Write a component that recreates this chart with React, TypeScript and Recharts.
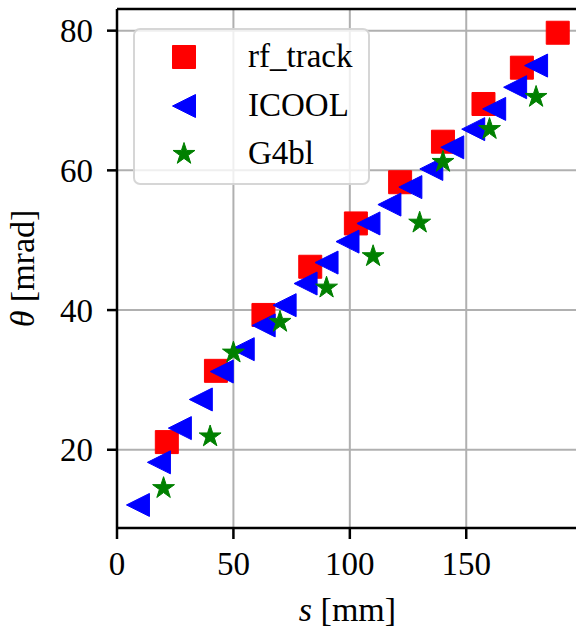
import React from 'react';
import {
  ScatterChart,
  Scatter,
  XAxis,
  YAxis,
  CartesianGrid,
  Legend,
  ReferenceLine,
  Label,
} from 'recharts';

// s [mm] and theta [mrad] for each code
const rfTrackS = [21.4, 42.5, 62.9, 83.0, 102.6, 121.6, 140.0, 157.4, 173.9, 189.3];
const rfTrackTheta = [21.1, 31.3, 39.3, 46.2, 52.4, 58.3, 64.1, 69.5, 74.7, 79.7];

const icoolS = [9, 18, 27, 36, 45, 54, 63, 72, 81, 90, 99, 108, 117, 126, 135, 144, 153, 162, 171, 180];
const icoolTheta = [
  12.1, 18.2, 23.1, 27.2, 31.2, 34.4, 37.8, 40.7, 43.8, 46.8, 49.8, 52.4, 55.1, 57.6, 60.2, 63.3,
  65.9, 68.8, 71.9, 75.0,
];

const g4blS = [20, 40, 50, 70, 90, 110, 130, 140, 160, 180];
const g4blTheta = [14.5, 21.9, 33.9, 38.3, 43.2, 47.7, 52.5, 61.2, 65.9, 70.5];

const seriesNames = ['rf_track', 'ICOOL', 'G4bl'];

const xTicks = [0, 50, 100, 150];
const yTicks = [20, 40, 60, 80];

const X_DOMAIN: [number, number] = [0, 198];
const Y_DOMAIN: [number, number] = [8.8, 83.1];

const FONT = 'Liberation Serif, Times New Roman, Times, serif';
const RED = '#ff0000';
const BLUE = '#0000ff';
const GREEN = '#008000';
const R = 11.5;

const toPoints = (s: number[], theta: number[]) => s.map((v, i) => ({ s: v, theta: theta[i] }));

const rfTrack = toPoints(rfTrackS, rfTrackTheta);
const icool = toPoints(icoolS, icoolTheta);
const g4bl = toPoints(g4blS, g4blTheta);

const squarePath = (cx: number, cy: number) =>
  `M${cx - R},${cy - R}L${cx + R},${cy - R}L${cx + R},${cy + R}L${cx - R},${cy + R}Z`;

const trianglePath = (cx: number, cy: number) =>
  `M${cx - R},${cy}L${cx + R},${cy - R}L${cx + R},${cy + R}Z`;

const starPath = (cx: number, cy: number) => {
  const pts: string[] = [];
  for (let k = 0; k < 10; k++) {
    const a = (-90 + k * 36) * (Math.PI / 180);
    const r = k % 2 === 0 ? R : R * 0.381966;
    pts.push(`${cx + r * Math.cos(a)},${cy + r * Math.sin(a)}`);
  }
  return `M${pts.join('L')}Z`;
};

const MARKERS: Record<string, { path: (cx: number, cy: number) => string; color: string }> = {
  rf_track: { path: squarePath, color: RED },
  ICOOL: { path: trianglePath, color: BLUE },
  G4bl: { path: starPath, color: GREEN },
};

const markerShape = (name: string) => (props: any) => {
  const { cx, cy } = props;
  const m = MARKERS[name];
  return (
    <path
      d={m.path(cx, cy)}
      fill={m.color}
      stroke={m.color}
      strokeWidth={1}
      strokeLinejoin="round"
    />
  );
};

// legend keeps the plotting order, not the alphabetical one
const LegendBox = ({ payload }: any) => {
  const items = [...(payload || [])].sort(
    (a: any, b: any) => seriesNames.indexOf(a.value) - seriesNames.indexOf(b.value)
  );
  return (
    <div
      style={{
        position: 'relative',
        width: 233,
        height: 153,
        border: '2px solid rgba(204, 204, 204, 0.8)',
        borderRadius: 7,
        background: 'rgba(255, 255, 255, 0.8)',
        fontFamily: FONT,
        fontSize: 33,
        color: '#000',
      }}
    >
      {items.map((entry: any, i: number) => {
        const m = MARKERS[entry.value];
        return (
          <div key={entry.value} style={{ position: 'absolute', left: 0, top: 6 + i * 48.5, height: 46 }}>
            <svg width={100} height={46} style={{ position: 'absolute', left: 0, top: 0 }}>
              {m && (
                <path d={m.path(49, 21)} fill={m.color} stroke={m.color} strokeWidth={1} strokeLinejoin="round" />
              )}
            </svg>
            <span
              style={{
                position: 'absolute',
                left: 113,
                top: -3,
                lineHeight: '46px',
                whiteSpace: 'nowrap',
                fontFamily: FONT,
              }}
            >
              {entry.value}
            </span>
          </div>
        );
      })}
    </div>
  );
};

const XLabel = ({ viewBox }: any) => {
  const cx = viewBox.x + viewBox.width / 2;
  return (
    <text x={cx} y={621} textAnchor="middle" style={{ fontFamily: FONT, fontSize: 34 }} fill="#000">
      <tspan fontStyle="italic">s</tspan>
      <tspan> [mm]</tspan>
    </text>
  );
};

const YLabel = ({ viewBox }: any) => {
  const cy = viewBox.y + viewBox.height / 2;
  const x = 34;
  return (
    <text
      x={x}
      y={cy}
      transform={`rotate(-90, ${x}, ${cy})`}
      textAnchor="middle"
      style={{ fontFamily: FONT, fontSize: 34 }}
      fill="#000"
    >
      <tspan fontStyle="italic">θ</tspan>
      <tspan> [mrad]</tspan>
    </text>
  );
};

const tickStyle = { fill: '#000', fontSize: 33, fontFamily: FONT, style: { fontFamily: FONT } };
const axisStroke = { stroke: '#000', strokeWidth: 2.5 };

export default function App() {
  return (
    <div
      style={{
        position: 'fixed',
        left: 0,
        top: 0,
        width: 576,
        height: 629,
        overflow: 'hidden',
        background: '#fff',
        fontFamily: FONT,
      }}
    >
      <ScatterChart
        width={578}
        height={629}
        margin={{ top: 9, right: 0, bottom: 0, left: 0 }}
        style={{ fontFamily: FONT }}
      >
        <CartesianGrid stroke="#b0b0b0" strokeWidth={2} />
        <XAxis
          type="number"
          dataKey="s"
          domain={X_DOMAIN}
          ticks={xTicks}
          allowDataOverflow
          height={101}
          tickSize={11}
          tickMargin={13}
          tick={tickStyle}
          axisLine={axisStroke}
          tickLine={axisStroke}
        >
          <Label content={<XLabel />} />
        </XAxis>
        <YAxis
          type="number"
          dataKey="theta"
          domain={Y_DOMAIN}
          ticks={yTicks}
          allowDataOverflow
          width={117}
          tickSize={10}
          tickMargin={14}
          tick={tickStyle}
          axisLine={axisStroke}
          tickLine={axisStroke}
        >
          <Label content={<YLabel />} />
        </YAxis>
        <ReferenceLine y={Y_DOMAIN[1]} stroke="#000" strokeWidth={2.5} />
        <Scatter name="rf_track" data={rfTrack} fill={RED} shape={markerShape('rf_track')} isAnimationActive={false} />
        <Scatter name="ICOOL" data={icool} fill={BLUE} shape={markerShape('ICOOL')} isAnimationActive={false} />
        <Scatter name="G4bl" data={g4bl} fill={GREEN} shape={markerShape('G4bl')} isAnimationActive={false} />
        <Legend
          layout="vertical"
          align="center"
          verticalAlign="middle"
          content={<LegendBox />}
          wrapperStyle={{ position: 'absolute', left: 133, top: 28, width: 237, height: 157 }}
        />
      </ScatterChart>
    </div>
  );
}
